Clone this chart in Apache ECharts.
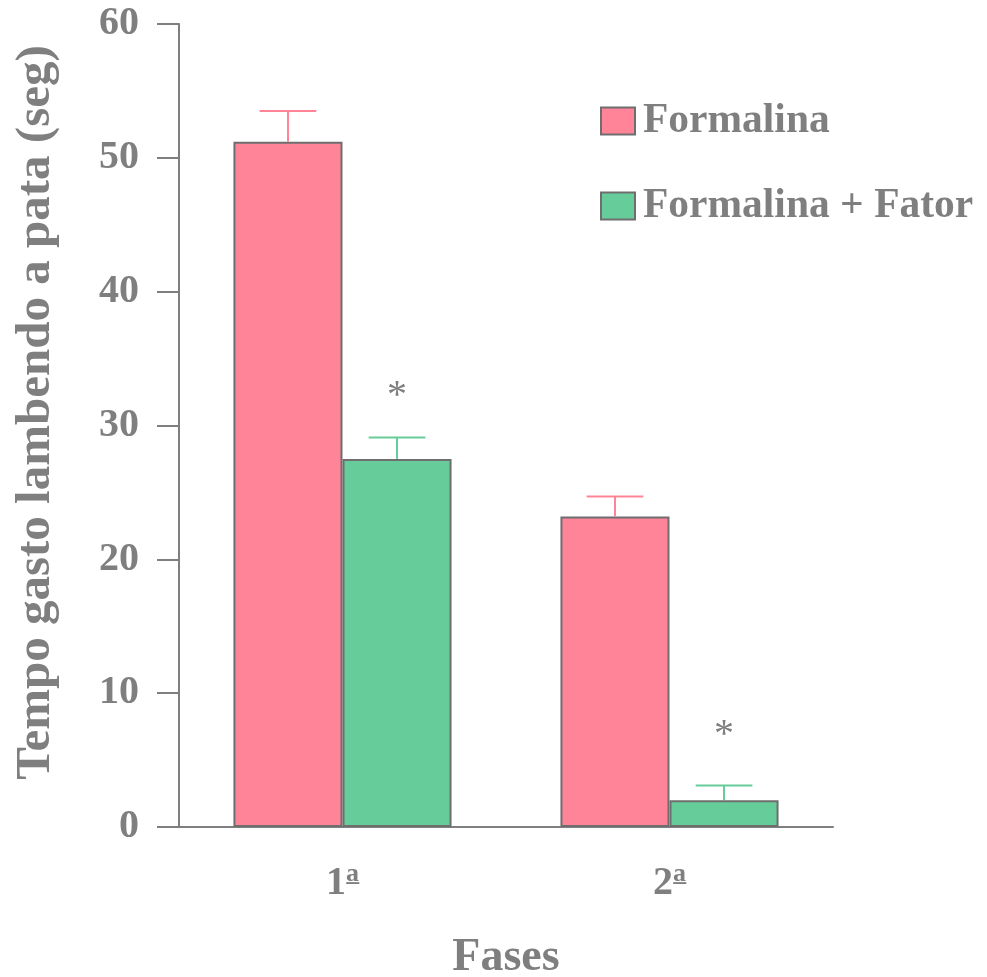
<!DOCTYPE html>
<html>
<head>
<meta charset="utf-8">
<script src="https://cdn.jsdelivr.net/npm/echarts@6/dist/echarts.min.js"></script>
<style>html,body{margin:0;padding:0;background:#fff}#c{width:987px;height:977px}</style>
</head>
<body>
<div id="c"></div>
<script>
const categories = ['1', '2'];
const categorySuffix = 'a\u0332';
const yTicks = [0, 10, 20, 30, 40, 50, 60];
const formalina = [51.2, 23.2];
const formalinaSem = [2.3, 1.5];
const fator = [27.5, 2.0];
const fatorSem = [1.6, 1.1];
const sigMarks = [32.2, 6.8];

const PINK = '#FF8498';
const GREEN = '#66CC99';
const GREY = '#7f7f7f';
const FONT = '"Liberation Serif", "Times New Roman", serif';
const GAP = 0.333;

function errorSeries(name, vals, sems, color, side) {
  return {
    type: 'custom',
    name: name + ' err',
    z: 5,
    silent: true,
    data: vals.map((v, i) => [i, v, v + sems[i]]),
    renderItem: function (params, api) {
      const cat = api.value(0);
      const base = api.coord([cat, api.value(1)]);
      const top = api.coord([cat, api.value(2)]);
      const catW = api.size([1, 0])[0];
      const bw = catW * (1 - GAP) / 2;
      const x = base[0] + side * bw / 2;
      const cap = bw * 0.52;
      return {
        type: 'group',
        children: [
          { type: 'line', shape: { x1: x, y1: base[1], x2: x, y2: top[1] }, style: { stroke: color, lineWidth: 2 } },
          { type: 'line', shape: { x1: x - cap / 2, y1: top[1], x2: x + cap / 2, y2: top[1] }, style: { stroke: color, lineWidth: 2 } }
        ]
      };
    }
  };
}

const chart = echarts.init(document.getElementById('c'));
chart.setOption({
  animation: false,
  backgroundColor: '#fff',
  grid: { left: 179, right: 154, top: 24, bottom: 150, containLabel: false, outerBoundsMode: 'none' },
  legend: {
    orient: 'vertical',
    left: 595,
    top: 95,
    itemWidth: 34,
    itemHeight: 27,
    itemGap: 43,
    icon: 'rect',
    data: ['Formalina', 'Formalina + Fator'],
    textStyle: { fontFamily: FONT, fontWeight: 'bold', fontSize: 41.5, lineHeight: 40, color: GREY, padding: [0, 0, 0, 3] }
  },
  xAxis: {
    type: 'category',
    data: categories,
    name: 'Fases',
    nameLocation: 'middle',
    nameGap: 108,
    nameTextStyle: { fontFamily: FONT, fontWeight: 'bold', fontSize: 46, color: GREY },
    axisLine: { lineStyle: { color: GREY, width: 2 } },
    axisTick: { show: false },
    axisLabel: {
      margin: 34,
      formatter: v => '{n|' + v + '}{s|' + categorySuffix + '}',
      rich: {
        n: { fontFamily: FONT, fontWeight: 'bold', fontSize: 40, color: GREY },
        s: { fontFamily: FONT, fontWeight: 'bold', fontSize: 26, color: GREY, padding: [0, 0, 20, 0] }
      }
    }
  },
  yAxis: {
    type: 'value',
    min: 0, max: 60, interval: 10,
    name: 'Tempo gasto lambendo a pata (seg)',
    nameLocation: 'middle',
    nameGap: 118,
    nameRotate: 90,
    nameTextStyle: { fontFamily: FONT, fontWeight: 'bold', fontSize: 49, color: GREY, padding: [0, 0, 0, 26] },
    splitLine: { show: false },
    axisLine: { show: true, lineStyle: { color: GREY, width: 2 } },
    axisTick: { show: true, length: 22, lineStyle: { color: GREY, width: 2 } },
    axisLabel: {
      fontFamily: FONT, fontWeight: 'bold', fontSize: 40, color: GREY, margin: 40,
      formatter: v => yTicks.includes(v) ? String(v) : ''
    }
  },
  series: [
    {
      type: 'bar', name: 'Formalina', data: formalina,
      barGap: '0%', barCategoryGap: (GAP * 100) + '%',
      itemStyle: { color: PINK, borderColor: '#6e6e6e', borderWidth: 2 }
    },
    {
      type: 'bar', name: 'Formalina + Fator', data: fator,
      barGap: '0%', barCategoryGap: (GAP * 100) + '%',
      itemStyle: { color: GREEN, borderColor: '#6e6e6e', borderWidth: 2 }
    },
    errorSeries('Formalina', formalina, formalinaSem, PINK, -1),
    errorSeries('Formalina + Fator', fator, fatorSem, GREEN, 1),
    {
      type: 'custom',
      name: 'sig',
      silent: true,
      data: sigMarks.map((v, i) => [i, v]),
      renderItem: function (params, api) {
        const p = api.coord([api.value(0), api.value(1)]);
        const catW = api.size([1, 0])[0];
        const bw = catW * (1 - GAP) / 2;
        return {
          type: 'text',
          x: p[0] + bw / 2,
          y: p[1],
          style: { text: '*', fontFamily: FONT, fontSize: 40, fill: GREY, align: 'center', verticalAlign: 'middle' }
        };
      }
    }
  ]
});
</script>
</body>
</html>
